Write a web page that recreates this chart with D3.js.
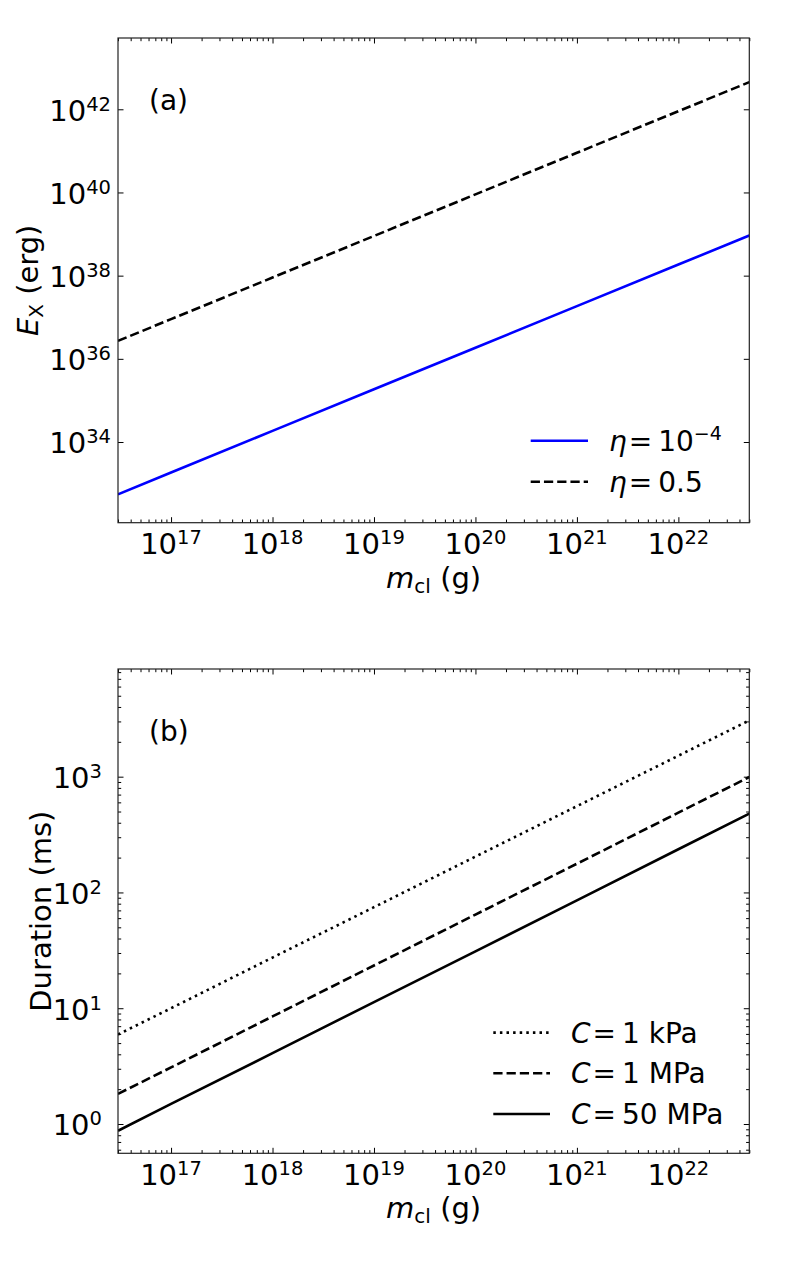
<!DOCTYPE html>
<html>
<head>
<meta charset="utf-8">
<script src="https://cdn.jsdelivr.net/npm/d3@7"></script>
<style>
  html, body { margin: 0; padding: 0; background: #fff; }
  svg text { font-family: "DejaVu Sans", sans-serif; fill: #000; }
</style>
</head>
<body>
<svg id="chart" width="789" height="1282"></svg>
<script>
// ---- data ----
const massG = [3e16, 1e17, 1e18, 1e19, 1e20, 1e21, 1e22, 5e22];
const energyEta1e4 = [5.5e32, 1.85e33, 1.85e34, 1.85e35, 1.85e36, 1.85e37, 1.85e38, 9.2e38];
const energyEta05  = [2.7e36, 9e36, 9e37, 9e38, 9e39, 9e40, 9e41, 4.5e42];
const durC1kPa  = [5.93, 10.0, 27.4, 74.6, 204, 556, 1517, 3062];
const durC1MPa  = [1.82, 3.08, 8.49, 23.4, 64.4, 177, 489, 993];
const durC50MPa = [0.875, 1.49, 4.09, 11.3, 31.0, 85.5, 236, 479];

const xMajorExp = [17, 18, 19, 20, 21, 22];
const yMajorExpA = [34, 36, 38, 40, 42];
const yMajorExpB = [0, 1, 2, 3];
const xDomain = [3e16, 5e22];
const yDomainA = [Math.pow(10, 32.06), Math.pow(10, 43.714)];
const yDomainB = [Math.pow(10, -0.253), Math.pow(10, 3.93)];

const legendA = [
  { sym: "η", val: "10", sup: "−4", color: "#0000ff", dash: null },
  { sym: "η", val: "0.5", sup: null, color: "#000", dash: "9.25,4" }
];
const legendB = [
  { sym: "C", val: "1 kPa", dash: "2.5,4.1" },
  { sym: "C", val: "1 MPa", dash: "9.25,4" },
  { sym: "C", val: "50 MPa", dash: null }
];

// ---- drawing ----
const svg = d3.select("#chart");
const L = 118, R = 749.3;

function minorTicks(domain) {
  const out = [];
  const lo = Math.floor(Math.log10(domain[0])), hi = Math.ceil(Math.log10(domain[1]));
  for (let e = lo; e <= hi; e++) {
    for (let k = 2; k <= 9; k++) {
      const v = k * Math.pow(10, e);
      if (v >= domain[0] * 0.9999 && v <= domain[1] * 1.0001) out.push(v);
    }
  }
  return out;
}

function supLabel(sel, base, sup, mainSize, supSize, rise) {
  sel.append("tspan").attr("font-size", mainSize).text(base);
  sel.append("tspan").attr("font-size", supSize).attr("dy", -rise).text(sup);
}

function panel(cfg) {
  const g = svg.append("g");
  const x = d3.scaleLog().domain(xDomain).range([L, R]);
  const y = d3.scaleLog().domain(cfg.yDomain).range([cfg.bottom, cfg.top]);
  const xMajor = xMajorExp.map(e => Math.pow(10, e));
  const xMinor = minorTicks(xDomain);
  const yMajor = cfg.yMajorExp.map(e => Math.pow(10, e));

  const mk = (axisFn, scale, vals, size, tx, ty) => {
    const a = g.append("g").attr("transform", `translate(${tx},${ty})`)
      .call(axisFn(scale).tickValues(vals).tickSizeInner(-size).tickSizeOuter(0).tickFormat(""));
    a.select(".domain").remove();
    a.selectAll(".tick line").attr("stroke", "#000").attr("stroke-width", 1);
  };
  mk(d3.axisBottom, x, xMajor, 5.5, 0, cfg.bottom);
  mk(d3.axisBottom, x, xMinor, 3.2, 0, cfg.bottom);
  mk(d3.axisTop, x, xMajor, 5.5, 0, cfg.top);
  mk(d3.axisTop, x, xMinor, 3.2, 0, cfg.top);
  mk(d3.axisLeft, y, yMajor, 5.5, L, 0);
  mk(d3.axisRight, y, yMajor, 5.5, R, 0);
  if (cfg.yMinor) {
    const ym = minorTicks(cfg.yDomain);
    mk(d3.axisLeft, y, ym, 3.2, L, 0);
    mk(d3.axisRight, y, ym, 3.2, R, 0);
  }

  // clip
  const cid = "clip" + cfg.id;
  svg.append("clipPath").attr("id", cid).append("rect")
    .attr("x", L).attr("y", cfg.top).attr("width", R - L).attr("height", cfg.bottom - cfg.top);

  const line = d3.line().x(d => x(d[0])).y(d => y(d[1]));
  cfg.series.forEach(s => {
    g.append("path")
      .attr("clip-path", `url(#${cid})`)
      .attr("d", line(massG.map((m, i) => [m, s.values[i]])))
      .attr("fill", "none")
      .attr("stroke", s.color)
      .attr("stroke-width", 2.6)
      .attr("stroke-dasharray", s.dash || null);
  });

  // frame
  g.append("rect").attr("x", L).attr("y", cfg.top).attr("width", R - L)
    .attr("height", cfg.bottom - cfg.top).attr("fill", "none")
    .attr("stroke", "#222").attr("stroke-width", 1.2);

  // x tick labels
  xMajorExp.forEach(e => {
    const t = g.append("text").attr("x", x(Math.pow(10, e))).attr("y", cfg.bottom + 31.7)
      .attr("text-anchor", "middle");
    supLabel(t, "10", String(e), 29, 19.5, 10);
  });
  // y tick labels
  cfg.yMajorExp.forEach(e => {
    const t = g.append("text").attr("x", cfg.yLabEnd).attr("y", y(Math.pow(10, e)) + 11.3)
      .attr("text-anchor", "end");
    supLabel(t, "10", String(e), 29, 19.5, 10);
  });

  // x label
  const xl = g.append("text").attr("x", (L + R) / 2).attr("y", cfg.bottom + 65)
    .attr("text-anchor", "middle").attr("font-size", 29);
  xl.append("tspan").attr("font-style", "italic").text("m");
  xl.append("tspan").attr("font-size", 20).attr("dy", 5).text("cl");
  xl.append("tspan").attr("dy", -5).text(" (g)");

  // y label
  const yl = g.append("text")
    .attr("transform", `translate(${cfg.yTitleX},${(cfg.top + cfg.bottom) / 2}) rotate(-90)`)
    .attr("text-anchor", "middle").attr("font-size", 29);
  cfg.yTitle(yl);

  // panel tag
  g.append("text").attr("x", 149).attr("y", cfg.top + 71.5).attr("font-size", 28).text(cfg.tag);

  // legend
  cfg.legend.forEach((it, i) => {
    const ry = cfg.legY + i * cfg.legStep;
    g.append("line").attr("x1", cfg.legX1).attr("x2", cfg.legX2).attr("y1", ry).attr("y2", ry)
      .attr("stroke", it.color || "#000").attr("stroke-width", 2.6)
      .attr("stroke-dasharray", it.dash || null);
    const t = g.append("text").attr("x", cfg.legTx).attr("y", ry + 10).attr("font-size", 28);
    t.append("tspan").attr("font-style", "italic").text(it.sym);
    t.append("tspan").attr("dx", 2).text("=");
    t.append("tspan").attr("dx", 6).text(it.val);
    if (it.sup) t.append("tspan").attr("font-size", 19).attr("dy", -11).text(it.sup);
  });
}

panel({
  id: "a", top: 38, bottom: 522.7, yDomain: yDomainA, yMajorExp: yMajorExpA, yMinor: false,
  yLabEnd: 111, yTitleX: 37.5, tag: "(a)",
  yTitle: t => {
    t.append("tspan").attr("font-style", "italic").text("E");
    t.append("tspan").attr("font-size", 20).attr("dy", 5).text("X");
    t.append("tspan").attr("dy", -5).text(" (erg)");
  },
  series: [
    { values: energyEta1e4, color: "#0000ff", dash: null },
    { values: energyEta05, color: "#000", dash: "9.25,4" }
  ],
  legend: legendA, legX1: 530.7, legX2: 588, legTx: 609, legY: 440.7, legStep: 41
});

panel({
  id: "b", top: 669, bottom: 1153.3, yDomain: yDomainB, yMajorExp: yMajorExpB, yMinor: true,
  yLabEnd: 102, yTitleX: 51, tag: "(b)",
  yTitle: t => { t.text("Duration (ms)"); },
  series: [
    { values: durC1kPa, color: "#000", dash: "2.5,4.1" },
    { values: durC1MPa, color: "#000", dash: "9.25,4" },
    { values: durC50MPa, color: "#000", dash: null }
  ],
  legend: legendB, legX1: 493.3, legX2: 550, legTx: 571, legY: 1032.6, legStep: 40.7
});
</script>
</body>
</html>
